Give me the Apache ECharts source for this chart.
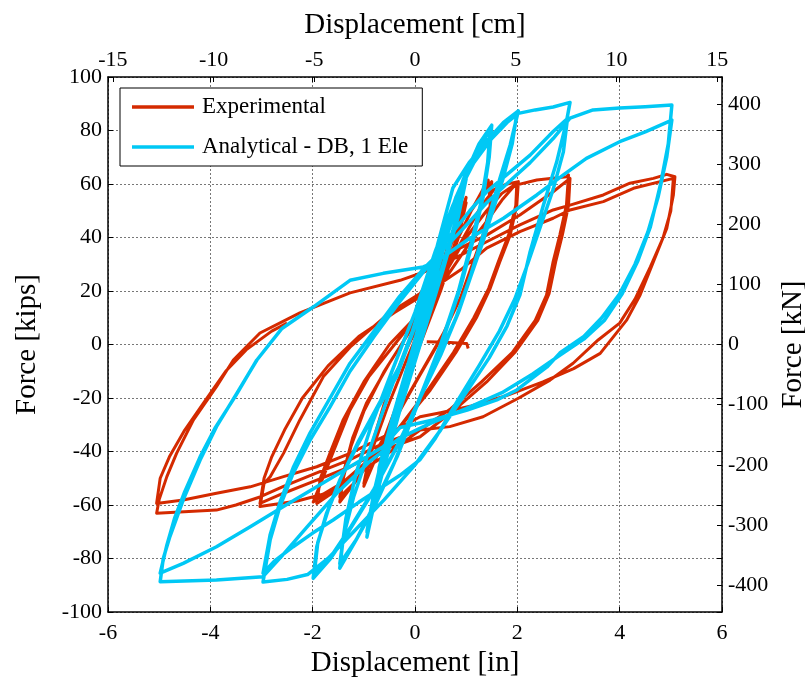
<!DOCTYPE html>
<html>
<head>
<meta charset="utf-8">
<script src="https://cdn.jsdelivr.net/npm/echarts@6/dist/echarts.min.js"></script>
<style>
html,body{margin:0;padding:0;background:#fff;overflow:hidden;}
#chart{width:805px;height:679px;}
</style>
</head>
<body>
<div id="chart"></div>
<script>
// ---------------- data (displacement [in], force [kips]) ----------------
var seriesNames = ['Experimental', 'Analytical - DB, 1 Ele'];

// Experimental: small cycles (0.25, 0.5, 1.0 in)
var expSmall = [[0,0],[0.1,9],[0.25,20],[0.1,8],[-0.1,-8],[-0.25,-19],[-0.1,-7],[0.1,9],[0.25,21],[0.1,7],[-0.1,-9],[-0.25,-20],
  [0,0],[0.25,18],[0.5,37],[0.35,26],[0.1,8],[-0.2,-12],[-0.5,-35],[-0.35,-24],[-0.1,-6],[0.2,14],[0.5,36],[0.35,24],[0.1,6],[-0.2,-14],[-0.5,-35],
  [-0.35,-22],[0,-2],[0.35,20],[0.7,40],[1.0,55],[0.85,42],[0.55,24],[0.2,5],[-0.2,-15],[-0.6,-35],[-1.0,-53],[-0.85,-40],[-0.55,-24],[-0.15,-5],[0.3,15],[0.7,37],[1.0,53],[0.85,40],[0.5,20],[0.1,0],[-0.3,-20],[-0.65,-38],[-1.0,-52]];
// Experimental: 1.5 in cycles
var exp15 = [[-0.85,-38],[-0.6,-22],[-0.2,-3],[0.3,16],[0.75,36],[1.1,50],[1.3,57],[1.43,61.5],
  [1.47,52],[1.33,41],[1.14,31],[0.9,18],[0.55,4],[0.1,-11],[-0.4,-28],[-0.8,-41],[-1.15,-51],[-1.47,-58.9],
  [-1.4,-50],[-1.25,-38],[-1.0,-25],[-0.6,-10],[-0.1,5],[0.4,22],[0.8,38],[1.1,50],[1.35,57],[1.5,60.9],
  [1.47,52.1],[1.33,40.9],[1.14,31],[0.88,17],[0.5,2],[0.05,-13],[-0.45,-30],[-0.85,-43],[-1.2,-52],[-1.47,-57]];
// Experimental: 2 in cycles
var exp2 = [[-1.4,-48],[-1.22,-35],[-0.95,-22],[-0.5,-7],[0,8],[0.5,24],[0.95,40],[1.3,52],[1.55,58],[1.8,60],[2.02,60.9],
  [1.99,52.1],[1.86,40.9],[1.66,31],[1.47,21],[1.2,10],[0.8,-3],[0.3,-17],[-0.3,-31],[-0.9,-43],[-1.5,-53],[-1.99,-58.9],
  [-1.79,-49.4],[-1.53,-36.9],[-1.27,-24.5],[-0.9,-12],[-0.4,0],[0.1,12],[0.6,27],[1.0,40],[1.4,50],[1.7,56.5],[1.99,60.3],
  [1.97,52],[1.83,41],[1.63,31],[1.44,21],[1.15,10],[0.75,-3],[0.25,-17],[-0.35,-32],[-0.95,-44],[-1.5,-54],[-1.92,-59.4]];
// Experimental: 3 in cycles
var exp3 = [[-1.85,-50],[-1.65,-40],[-1.4,-28],[-1.0,-14],[-0.5,0],[0,10],[0.5,22],[1.0,36],[1.4,46],[1.7,54],[1.95,59.5],[2.38,61.5],[2.96,62.7],[3.0,63.4],
  [2.96,52.1],[2.83,40.9],[2.7,31],[2.57,18.5],[2.35,9],[1.9,-3],[1.3,-14],[0.7,-24],[0.1,-32],[-0.62,-42],[-1.27,-50],[-1.8,-56],[-2.3,-58.5],[-3.03,-60.6],
  [-2.95,-52],[-2.83,-49.4],[-2.57,-40.7],[-2.25,-28.2],[-1.79,-12],[-1.27,-1],[-0.49,12],[0.1,19.1],[0.74,34.7],[1.4,40.9],[2.05,48.4],[2.7,57.1],[3.03,62.1],
  [3.0,52],[2.88,41],[2.75,31],[2.62,19],[2.4,9],[1.95,-3],[1.4,-14],[0.8,-24],[0.1,-34.5],[-0.62,-39.4],[-1.27,-45.7],[-1.92,-50.7],[-2.57,-55.6],[-3.03,-59.4]];
// Experimental: 5 in cycles
var exp5 = [[-2.95,-50],[-2.8,-42],[-2.55,-32],[-2.2,-20],[-1.7,-8],[-1.1,3],[-0.4,12],[0.2,19],[0.9,28],[1.4,36],[2.05,42.2],[2.7,47.2],[3.03,50.3],[3.68,53.4],[4.27,58.4],[5.05,62.1],
  [5.0,50],[4.85,40],[4.6,29],[4.3,17],[4.0,8],[3.58,1.7],[3.09,-7],[2.64,-13.3],[2.02,-20.1],[1.33,-27],[0.68,-30.7],[0.1,-32],[-0.62,-37],[-1.27,-43],[-1.92,-48],[-2.57,-53],[-3.03,-57],[-3.5,-60],[-3.88,-61.9],[-5.05,-63.1],
  [-5.0,-58],[-4.85,-49.4],[-4.66,-40.7],[-4.33,-28.2],[-3.88,-15.8],[-3.55,-5.8],[-3.03,4.3],[-2.25,11.8],[-1.27,19.3],[-0.29,24],[0.16,27],[0.8,32.5],[1.4,38.4],[2.05,44.7],[2.7,50.3],[3.03,52.1],[3.68,55.9],[4.2,60.3],[4.66,62.1],[4.92,63.6],[5.08,62.7],
  [5.05,55.9],[4.92,43.4],[4.66,31],[4.4,18.5],[4.14,9.2],[3.62,-3.3],[3.1,-9],[2.5,-14],[1.8,-19],[1.1,-23],[0.5,-25.5],[0.1,-27],[-0.62,-34.5],[-1.27,-40.7],[-1.92,-45.7],[-2.57,-49.4],[-3.22,-53.2],[-3.88,-55.6],[-4.53,-58.1],[-5.05,-59.4],
  [-4.98,-50],[-4.8,-42],[-4.5,-32],[-4.1,-21],[-3.7,-10],[-3.3,-2],[-2.8,5],[-2.5,8]];
// Experimental: final unloaded segment
var expEnd = [[0.23,1],[0.6,0.8],[1.01,0.4],[1.04,-1.5]];

// Analytical: small cycles (0.25, 0.5, 0.75, 1.0 in)
var anaSmall = [[0,0],[0.1,7],[0.25,17],[0.12,7],[-0.1,-7],[-0.25,-18],[-0.12,-8],[0.1,7],[0.25,17],[0.12,6],[-0.1,-8],[-0.25,-18],
  [0,1],[0.25,19],[0.5,35],[0.32,22],[0,1],[-0.25,-19],[-0.5,-38],[-0.32,-25],[0,-3],[0.25,17],[0.5,35],[0.32,21],[0,0],[-0.25,-19],[-0.5,-38],
  [-0.3,-22],[0,2],[0.35,27],[0.75,52],[0.55,38],[0.2,14],[-0.2,-14],[-0.5,-36],[-0.75,-56],[-0.55,-42],[-0.2,-18],[0.2,10],[0.5,32],[0.75,51],[0.55,36],[0.2,12],[-0.2,-16],[-0.5,-37],[-0.75,-55],
  [-0.7,-46],[-0.45,-28],[-0.1,-5],[0.25,18],[0.6,40],[0.85,55],[1.0,64],[0.85,50],[0.55,30],[0.15,5],[-0.3,-23],[-0.65,-47],[-0.94,-72],[-0.8,-55],[-0.5,-33],[-0.1,-8],[0.3,18],[0.65,42],[1.0,62],[0.85,48],[0.55,28],[0.15,3],[-0.3,-25],[-0.65,-49],[-0.94,-70]];
// Analytical: 1.5 in cycles
var ana15 = [[-0.8,-55],[-0.55,-35],[-0.2,-12],[0.2,15],[0.6,42],[0.95,62],[1.25,75],[1.5,82],
  [1.45,70],[1.33,55],[1.15,40],[0.9,22],[0.55,2],[0.1,-20],[-0.35,-42],[-0.8,-60],[-1.15,-73],[-1.47,-83.6],
  [-1.4,-72],[-1.2,-57],[-0.9,-40],[-0.5,-18],[-0.05,5],[0.4,32],[0.8,55],[1.1,68],[1.3,75],[1.47,80.5],
  [1.42,68],[1.3,54],[1.1,38],[0.85,20],[0.5,0],[0.05,-22],[-0.4,-44],[-0.8,-61],[-1.15,-73],[-1.47,-82]];
// Analytical: 2 in cycles
var ana2 = [[-1.35,-65],[-1.15,-48],[-0.85,-30],[-0.45,-10],[0,12],[0.4,35],[0.74,52],[1.07,66],[1.4,76],[1.73,83],[2.02,87.3],
  [1.86,74.6],[1.66,62.1],[1.47,49.6],[1.27,37.2],[1.07,24.8],[0.8,10],[0.45,-5],[0.05,-22],[-0.4,-40],[-0.85,-56],[-1.3,-70],[-1.65,-80],[-1.99,-87.4],
  [-1.92,-75.6],[-1.73,-63.1],[-1.47,-50.7],[-1.14,-38.2],[-0.75,-24.5],[-0.36,-12],[0.1,12],[0.45,38],[0.74,58.5],[1.07,68.3],[1.4,75.8],[1.73,82],[1.99,86.4],
  [1.9,75],[1.72,62],[1.52,50],[1.32,38],[1.1,26],[0.85,12],[0.5,-4],[0.1,-20],[-0.35,-38],[-0.8,-54],[-1.25,-68],[-1.6,-78],[-1.97,-86]];
// Analytical: 3 in cycles
var ana3 = [[-1.9,-74],[-1.7,-62],[-1.45,-50],[-1.1,-36],[-0.7,-22],[-0.3,-8],[0.15,15],[0.5,38],[0.8,55],[1.15,68],[1.5,77],[1.8,83],[2.02,86.4],[2.35,87.7],[2.7,88.8],[3.03,90.5],
  [2.96,83.3],[2.77,68.3],[2.51,52.1],[2.25,34.7],[2.05,18.5],[1.8,7],[1.45,-5],[1.0,-18],[0.5,-32],[0,-45],[-0.6,-58],[-1.2,-70],[-1.7,-80],[-2.1,-86],[-2.5,-87.8],[-2.97,-88.8],
  [-2.83,-73],[-2.64,-60.6],[-2.38,-48.1],[-2.05,-35.7],[-1.66,-23.3],[-1.27,-10],[-0.8,3],[-0.3,16],[0.2,28],[0.74,42],[1.07,50],[1.4,57.1],[1.79,63.4],[2.25,70.8],[2.7,79.6],[2.98,84.5],
  [2.9,72],[2.7,58],[2.45,44],[2.2,30],[1.95,17],[1.65,5],[1.25,-8],[0.8,-22],[0.4,-35],[0.1,-43],[-0.3,-49],[-0.62,-53],[-1.1,-59],[-1.6,-65.6],[-2.0,-70.5],[-2.38,-75.6],[-2.75,-81],[-2.97,-85.5]];
// Analytical: 5 in cycles
var ana5 = [[-2.83,-71],[-2.64,-59],[-2.38,-46],[-2.05,-33],[-1.66,-20],[-1.27,-7],[-0.8,5],[-0.3,18],[0.2,29],[0.68,38],[1.07,46],[1.4,53],[1.79,60],[2.25,68],[2.7,77],[3.03,84.6],[3.48,87.7],[4.0,88.4],[4.5,88.9],[5.02,89.5],
  [4.95,75],[4.8,60],[4.6,44],[4.35,31],[4.05,19],[3.7,9],[3.3,2],[2.83,-4],[2.3,-11],[1.7,-18],[1.0,-24],[0.3,-29.5],[-0.3,-35],[-0.9,-44],[-1.5,-55],[-2.1,-68],[-2.6,-79],[-2.97,-86.8],[-3.88,-88],[-4.98,-88.7],
  [-4.92,-80],[-4.79,-71.8],[-4.53,-58.1],[-4.2,-43.2],[-3.88,-30.7],[-3.48,-18.2],[-3.09,-5.8],[-2.6,6],[-1.99,14],[-1.27,24],[-0.62,26.6],[0.16,29],[0.42,31],[1.07,39.7],[1.73,47.2],[2.38,55.9],[2.9,63.4],[3.35,69.6],[4.0,75.8],[4.5,79.5],[5.02,83.9],
  [4.92,70],[4.75,55],[4.55,42],[4.3,30],[4.0,19],[3.65,10],[3.3,3],[2.83,-3.2],[2.58,-8.4],[1.99,-17],[1.6,-20.7],[1.02,-24.5],[0.35,-28.2],[-0.29,-31],[-0.62,-38.2],[-1.27,-45.7],[-1.92,-53.2],[-2.57,-60.6],[-3.22,-68.1],[-3.88,-75.6],[-4.53,-81.8],[-4.98,-85.5],
  [-4.85,-75],[-4.7,-65],[-4.5,-55],[-4.2,-42],[-3.9,-31],[-3.5,-19],[-3.1,-6]];

// axis ticks
var inchTicks = [-6, 6, 2];            // min, max, step
var kipsTicks = [-100, 100, 20];
var cmTicks = [-15, -10, -5, 0, 5, 10, 15];
var kNTicks = [-400, -300, -200, -100, 0, 100, 200, 300, 400];
var IN_TO_CM = 2.54, KIP_TO_KN = 4.44822;

// ---------------- chart ----------------
var expData = expSmall.concat(exp15, exp2, exp3, exp5, ['-'], expEnd);
var anaData = anaSmall.concat(ana15, ana2, ana3, ana5);

var FONT = 'Liberation Serif';
var chart = echarts.init(document.getElementById('chart'), null, {renderer: 'canvas', width: 805, height: 679});
var axisLineStyle = {color: '#000', width: 1.5};
var labelStyle = {fontFamily: FONT, fontSize: 22, color: '#000'};
var gridLine = {show: true, lineStyle: {color: '#777', type: [2, 2], width: 1}};
var tickStyle = {show: true, inside: true, length: 5, lineStyle: {color: '#000', width: 1}};

chart.setOption({
  animation: false,
  backgroundColor: '#fff',
  grid: {left: 108, right: 83, top: 77, bottom: 67, containLabel: false, outerBoundsMode: 'none'},
  legend: {
    data: seriesNames,
    orient: 'vertical',
    left: 120, top: 88,
    icon: 'rect',
    backgroundColor: '#fff',
    borderColor: '#000', borderWidth: 1, borderRadius: 0,
    padding: [7, 14, 7, 12],
    itemWidth: 62, itemHeight: 3.5, itemGap: 16,
    textStyle: {fontFamily: FONT, fontSize: 23, lineHeight: 24, color: '#000', padding: [0, 0, 0, 3]}
  },
  xAxis: [{
    type: 'value', position: 'bottom',
    min: inchTicks[0], max: inchTicks[1], interval: inchTicks[2],
    name: 'Displacement [in]', nameLocation: 'middle', nameGap: 34,
    nameTextStyle: {fontFamily: FONT, fontSize: 29, color: '#000'},
    axisLine: {show: true, onZero: false, lineStyle: axisLineStyle},
    axisTick: tickStyle,
    axisLabel: Object.assign({margin: 10}, labelStyle),
    splitLine: gridLine
  }, {
    type: 'value', position: 'top',
    min: inchTicks[0] * IN_TO_CM, max: inchTicks[1] * IN_TO_CM,
    name: 'Displacement [cm]', nameLocation: 'middle', nameGap: 37,
    nameTextStyle: {fontFamily: FONT, fontSize: 29, color: '#000'},
    axisLine: {show: true, onZero: false, lineStyle: axisLineStyle},
    axisTick: Object.assign({customValues: cmTicks}, tickStyle),
    axisLabel: Object.assign({margin: 6, customValues: cmTicks}, labelStyle),
    splitLine: {show: false}
  }, {
    type: 'value', position: 'top',
    min: inchTicks[0], max: inchTicks[1], interval: inchTicks[2],
    axisLine: {show: false, onZero: false},
    axisTick: tickStyle,
    axisLabel: {show: false},
    splitLine: {show: false}
  }],
  yAxis: [{
    type: 'value', position: 'left',
    min: kipsTicks[0], max: kipsTicks[1], interval: kipsTicks[2],
    name: 'Force [kips]', nameLocation: 'middle', nameGap: 66, nameRotate: 90,
    nameTextStyle: {fontFamily: FONT, fontSize: 29, color: '#000'},
    axisLine: {show: true, onZero: false, lineStyle: axisLineStyle},
    axisTick: tickStyle,
    axisLabel: Object.assign({margin: 6}, labelStyle),
    splitLine: gridLine
  }, {
    type: 'value', position: 'right',
    min: kipsTicks[0] * KIP_TO_KN, max: kipsTicks[1] * KIP_TO_KN,
    name: 'Force [kN]', nameLocation: 'middle', nameGap: 55, nameRotate: 90,
    nameTextStyle: {fontFamily: FONT, fontSize: 29, color: '#000'},
    axisLine: {show: true, onZero: false, lineStyle: axisLineStyle},
    axisTick: Object.assign({customValues: kNTicks}, tickStyle),
    axisLabel: Object.assign({margin: 6, customValues: kNTicks}, labelStyle),
    splitLine: {show: false}
  }, {
    type: 'value', position: 'right',
    min: kipsTicks[0], max: kipsTicks[1], interval: kipsTicks[2],
    axisLine: {show: false, onZero: false},
    axisTick: tickStyle,
    axisLabel: {show: false},
    splitLine: {show: false}
  }],
  series: [{
    name: seriesNames[0], type: 'line', xAxisIndex: 0, yAxisIndex: 0,
    data: expData, symbol: 'none', smooth: false, connectNulls: false,
    lineStyle: {color: '#D42A00', width: 3, join: 'round'}, itemStyle: {color: '#D42A00'}
  }, {
    name: seriesNames[1], type: 'line', xAxisIndex: 0, yAxisIndex: 0,
    data: anaData, symbol: 'none', smooth: false,
    lineStyle: {color: '#00C8F5', width: 3.5, join: 'round'}, itemStyle: {color: '#00C8F5'}
  }]
});
</script>
</body>
</html>
